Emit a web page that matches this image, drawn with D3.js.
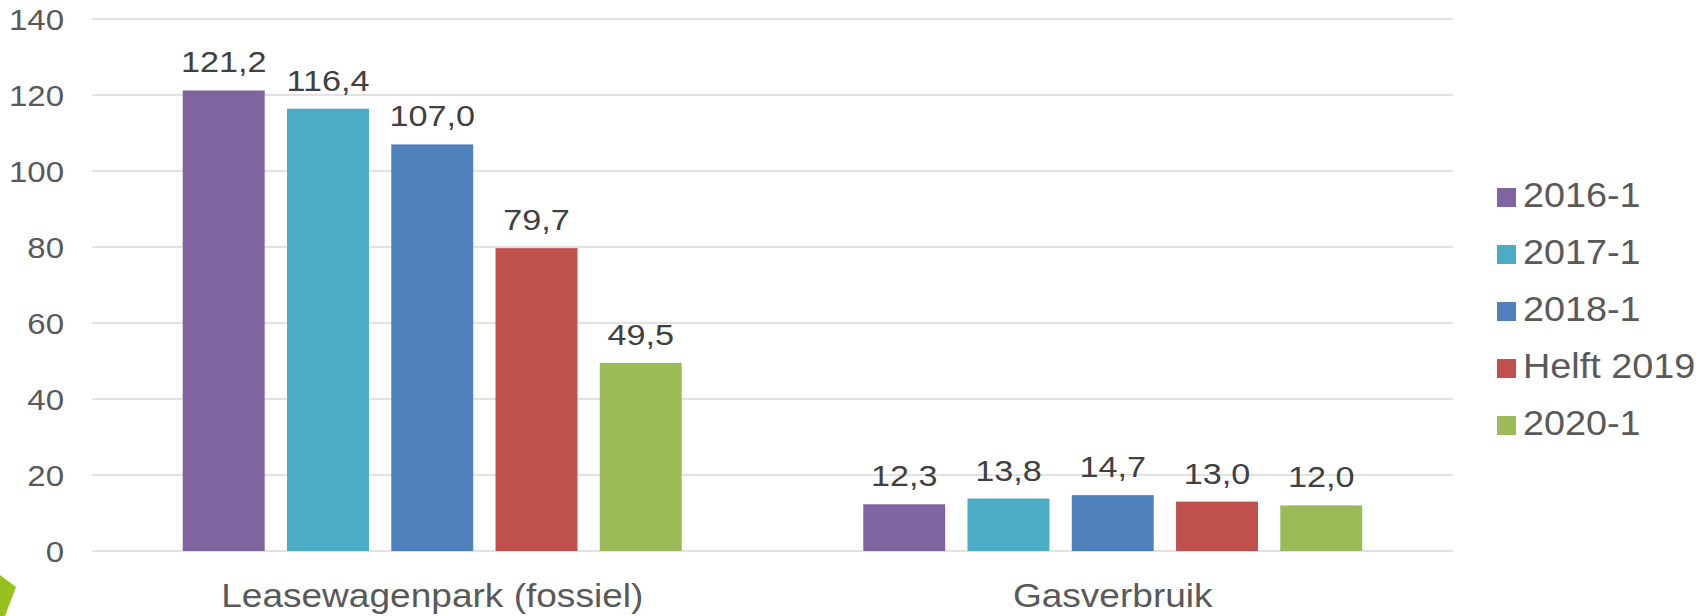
<!DOCTYPE html>
<html>
<head>
<meta charset="utf-8">
<script src="https://cdn.jsdelivr.net/npm/d3@7"></script>
<style>
body { margin: 0; background: #fff; }
text { font-family: "Liberation Sans", Arial, sans-serif; }
</style>
</head>
<body>
<svg id="chart"></svg>
<script>
var categories = ["Leasewagenpark (fossiel)", "Gasverbruik"];
var series = ["2016-1", "2017-1", "2018-1", "Helft 2019", "2020-1"];
var lease = [121.2, 116.4, 107.0, 79.7, 49.5];
var gas = [12.3, 13.8, 14.7, 13.0, 12.0];
var yTicks = [0, 20, 40, 60, 80, 100, 120, 140];
const colors = ["#8064A2", "#4BACC6", "#4F81BD", "#C0504D", "#9BBB59"];

var width = 1707;
var height = 616;
var svg = d3.select("#chart").attr("width", width).attr("height", height);

var values = [lease, gas];
var fmt = function(v) { return d3.format(".1f")(v).replace(".", ","); };

// the original text is a bit wider than the font, so stretch it horizontally
function place(x, y, sx) {
	return "translate(" + x + "," + y + ") scale(" + sx + ",1)";
}

var y = d3.scaleLinear().domain([0, 140]).range([551, 19]);
var x0 = d3.scaleBand().domain(categories).range([92, 1453]);
var groupWidth = 499;
var x1 = d3.scaleBand().domain(series).range([0, groupWidth]).paddingInner(0.214);
var offset = (x0.bandwidth() - groupWidth) / 2;

// gridlines
svg.selectAll(".grid").data(yTicks)
	.enter().append("line")
	.attr("class", "grid")
	.attr("x1", 92).attr("x2", 1453)
	.attr("y1", function(d) { return y(d); })
	.attr("y2", function(d) { return y(d); })
	.style("stroke", "#d9d9d9")
	.style("stroke-width", 1.5);

// y axis labels
svg.selectAll(".ytick").data(yTicks)
	.enter().append("text")
	.attr("class", "ytick")
	.attr("transform", function(d) { return place(64, y(d), 1.1); })
	.attr("dy", "0.36em")
	.attr("text-anchor", "end")
	.style("font-size", "30px")
	.style("fill", "#595959")
	.text(function(d) { return d; });

// bars
var groups = svg.selectAll(".group").data(categories)
	.enter().append("g")
	.attr("class", "group")
	.attr("transform", function(d) { return "translate(" + (x0(d) + offset) + ",0)"; });

function rows(d, i) {
	return series.map(function(s, j) { return {s: s, j: j, v: values[i][j]}; });
}

groups.selectAll("rect").data(rows)
	.enter().append("rect")
	.attr("x", function(d) { return x1(d.s); })
	.attr("width", x1.bandwidth())
	.attr("y", function(d) { return y(d.v); })
	.attr("height", function(d) { return y(0) - y(d.v); })
	.style("fill", function(d) { return colors[d.j]; });

groups.selectAll(".lbl").data(rows)
	.enter().append("text")
	.attr("class", "lbl")
	.attr("transform", function(d) { return place(x1(d.s) + x1.bandwidth() / 2, y(d.v) - 18, 1.14); })
	.attr("text-anchor", "middle")
	.style("font-size", "30px")
	.style("fill", "#404040")
	.text(function(d) { return fmt(d.v); });

// category labels
svg.selectAll(".cat").data(categories)
	.enter().append("text")
	.attr("class", "cat")
	.attr("transform", function(d) { return place(x0(d) + x0.bandwidth() / 2, 607, 1.09); })
	.attr("text-anchor", "middle")
	.style("font-size", "34px")
	.style("fill", "#595959")
	.text(function(d) { return d; });

// legend
var legend = svg.selectAll(".legend").data(series)
	.enter().append("g")
	.attr("class", "legend")
	.attr("transform", function(d, i) { return "translate(1497," + (188 + i * 57) + ")"; });
legend.append("rect")
	.attr("width", 19).attr("height", 19)
	.style("fill", function(d, i) { return colors[i]; });
legend.append("text")
	.attr("transform", place(26, 19, 1.08))
	.style("font-size", "35px")
	.style("fill", "#595959")
	.text(function(d) { return d; });

// decorative corner triangle
svg.append("path")
	.attr("d", "M0,575L16,587L5,616L0,616Z")
	.style("fill", "#97C11F");
</script>
</body>
</html>
